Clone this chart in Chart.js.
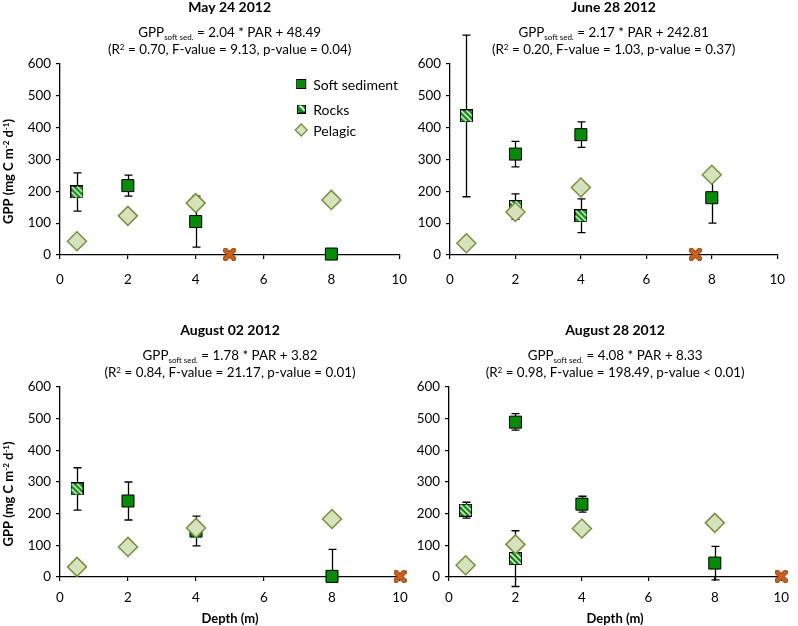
<!DOCTYPE html>
<html>
<head>
<meta charset="utf-8">
<script src="https://cdn.jsdelivr.net/npm/chart.js@4.4.1/dist/chart.umd.min.js"></script>
<style>
  body { margin: 0; background: #fff; }
  #wrap { position: relative; width: 798px; height: 626px; overflow: hidden; }
  #wrap canvas { position: absolute; }
</style>
</head>
<body>
<div id="wrap">
  <canvas id="c0" width="420" height="300" style="left:0;top:0"></canvas>
  <canvas id="c1" width="400" height="300" style="left:398px;top:0"></canvas>
  <canvas id="c2" width="420" height="326" style="left:0;top:300px"></canvas>
  <canvas id="c3" width="400" height="326" style="left:398px;top:300px"></canvas>
</div>
<script>
// ---- data ----
const panelTitles = ['May 24 2012', 'June 28 2012', 'August 02 2012', 'August 28 2012'];
const eqSlope = ['2.04', '2.17', '1.78', '4.08'];
const eqIntercept = ['48.49', '242.81', '3.82', '8.33'];
const eqStats = [
  ' = 0.70, F-value = 9.13, p-value = 0.04)',
  ' = 0.20, F-value = 1.03, p-value = 0.37)',
  ' = 0.84, F-value = 21.17, p-value = 0.01)',
  ' = 0.98, F-value = 198.49, p-value < 0.01)',
];

const softDepths = [2, 4, 8];
const softGPP = [[218, 105, 3], [317, 378, 180], [240, 145, 2], [489, 230, 44]];
const softErrUp = [[33, 80, 0], [40, 40, 80], [60, 47, 85], [27, 25, 53]];
const softErrDown = [[33, 80, 0], [40, 40, 80], [60, 47, 0], [25, 25, 53]];

const rockDepths = [[0.5], [0.5, 2, 4], [0.5], [0.5, 2]];
const rockGPP = [[198], [437, 152, 123], [278], [211, 58]];
const rockErr = [[60], [254, 40, 53], [67], [25, 88]];

const pelagicDepths = [0.5, 2, 4, 8];
const pelagicGPP = [[43, 123, 163, 173], [37, 135, 212, 252], [32, 95, 155, 183], [37, 103, 153, 171]];

const zeroDepth = [5, 7.5, 10, 10];   // brown cross on the axis
const zeroGPP = 2;

const xTicks = [0, 2, 4, 6, 8, 10];
const yTicks = [0, 100, 200, 300, 400, 500, 600];

// ---- look ----
const FONT = 'Lato, "Open Sans", sans-serif';
const GREEN = '#078a07';
const PEL_FILL = '#d5e2bb';
const PEL_EDGE = '#76913e';

function rockIcon(size, step, lw) {
  const c = document.createElement('canvas');
  c.width = c.height = size;
  const g = c.getContext('2d');
  g.fillStyle = GREEN;
  g.fillRect(0, 0, size, size);
  g.save();
  g.beginPath(); g.rect(1, 1, size - 2, size - 2); g.clip();
  g.strokeStyle = '#fff';
  g.lineWidth = lw;
  for (let k = -size + 2; k < 2 * size; k += step) {
    g.beginPath(); g.moveTo(k, 0); g.lineTo(k + size, size); g.stroke();
  }
  g.restore();
  g.strokeStyle = '#000'; g.lineWidth = 1;
  g.strokeRect(0.5, 0.5, size - 1, size - 1);
  return c;
}

function crossIcon(size) {
  const c = document.createElement('canvas');
  c.width = c.height = size;
  const g = c.getContext('2d');
  const a = 2.5, b = size - 2.5;
  g.lineCap = 'square';
  g.strokeStyle = '#8a3f10'; g.lineWidth = 5.2;
  g.beginPath(); g.moveTo(a, a); g.lineTo(b, b); g.moveTo(b, a); g.lineTo(a, b); g.stroke();
  g.strokeStyle = '#c8621e'; g.lineWidth = 3.4;
  g.beginPath(); g.moveTo(a, a); g.lineTo(b, b); g.moveTo(b, a); g.lineTo(a, b); g.stroke();
  return c;
}

const rockImg = rockIcon(13, 5.5, 1.4);
const rockLegendImg = rockIcon(9, 9, 2);
const crossImg = crossIcon(13);

// draws a line made of normal / sub / sup parts centred on cx
function drawRich(ctx, parts, cx, cy, size, bold) {
  const w = bold ? 'bold ' : '';
  const small = Math.round(size * 0.62);
  let total = 0;
  parts.forEach(p => {
    ctx.font = w + (p[1] ? small : size) + 'px ' + FONT;
    total += ctx.measureText(p[0]).width;
  });
  let x = cx - total / 2;
  ctx.textAlign = 'left';
  ctx.textBaseline = 'alphabetic';
  parts.forEach(p => {
    ctx.font = w + (p[1] ? small : size) + 'px ' + FONT;
    const dy = p[1] === 'sub' ? 3 : p[1] === 'sup' ? -4.5 : 0;
    ctx.fillText(p[0], x, cy + dy);
    x += ctx.measureText(p[0]).width;
  });
}

const errorBars = {
  id: 'errorBars',
  beforeDatasetsDraw(chart) {
    const i = chart.options.plugins.panel.index;
    const xs = chart.scales.x, ys = chart.scales.y;
    const ctx = chart.ctx;
    const bars = [];
    softDepths.forEach((d, k) => bars.push([d, softGPP[i][k], softErrUp[i][k], softErrDown[i][k]]));
    rockDepths[i].forEach((d, k) => bars.push([d, rockGPP[i][k], rockErr[i][k], rockErr[i][k]]));
    ctx.save();
    ctx.strokeStyle = '#000';
    ctx.lineWidth = 1.3;
    bars.forEach(([d, v, up, down]) => {
      const px = Math.round(xs.getPixelForValue(d)) + 0.5;
      const ends = [];
      if (up > 0) ends.push(ys.getPixelForValue(v + up));
      if (down > 0) ends.push(ys.getPixelForValue(v - down));
      ends.forEach(py => {
        ctx.beginPath();
        ctx.moveTo(px, ys.getPixelForValue(v));
        ctx.lineTo(px, py);
        ctx.moveTo(px - 4, py);
        ctx.lineTo(px + 4, py);
        ctx.stroke();
      });
    });
    ctx.restore();
  },
};

const panelText = {
  id: 'panelText',
  afterDraw(chart, args, opts) {
    const i = opts.index;
    const ctx = chart.ctx;
    const a = chart.chartArea;
    const cx = (a.left + a.right) / 2;
    ctx.save();
    ctx.fillStyle = '#000';
    drawRich(ctx, [[panelTitles[i]]], cx, a.top - 52, 14, true);
    drawRich(ctx, [['GPP'], ['soft sed.', 'sub'], [' = ' + eqSlope[i] + ' * PAR + ' + eqIntercept[i]]], cx, a.top - 27, 13.4, false);
    drawRich(ctx, [['(R'], ['2', 'sup'], [eqStats[i]]], cx, a.top - 10, 13.4, false);

    if (opts.yTitle) {
      ctx.save();
      ctx.translate(13, (a.top + a.bottom) / 2 + 12);
      ctx.rotate(-Math.PI / 2);
      drawRich(ctx, [['GPP (mg C m'], ['-2', 'sup'], [' d'], ['-1', 'sup'], [')']], 0, 0, 13, true);
      ctx.restore();
    }
    if (opts.xTitle) {
      drawRich(ctx, [['Depth (m)']], cx, a.bottom + 46, 13, true);
    }
    if (opts.legend) {
      const lx = a.right - 98;
      const items = ['Soft sediment', 'Rocks', 'Pelagic'];
      const rows = [a.top + 20, a.top + 45, a.top + 66];
      ctx.fillStyle = GREEN; ctx.strokeStyle = '#000'; ctx.lineWidth = 1;
      ctx.fillRect(lx - 4, rows[0] - 4, 8, 8);
      ctx.strokeRect(lx - 4.5, rows[0] - 4.5, 9, 9);
      ctx.drawImage(rockLegendImg, lx - 4.5, rows[1] - 4.5);
      ctx.beginPath();
      ctx.moveTo(lx, rows[2] - 6); ctx.lineTo(lx + 6, rows[2]);
      ctx.lineTo(lx, rows[2] + 6); ctx.lineTo(lx - 6, rows[2]); ctx.closePath();
      ctx.fillStyle = PEL_FILL; ctx.fill();
      ctx.strokeStyle = PEL_EDGE; ctx.lineWidth = 1.3; ctx.stroke();
      ctx.fillStyle = '#000';
      ctx.font = '14px ' + FONT;
      ctx.textAlign = 'left';
      ctx.textBaseline = 'middle';
      items.forEach((t, k) => ctx.fillText(t, lx + 12, rows[k] + 1));
    }
    ctx.restore();
  },
};

function pts(xs, ys) {
  return xs.map((x, k) => ({ x, y: ys[k] }));
}

function makePanel(id, i, layout) {
  new Chart(document.getElementById(id), {
    type: 'scatter',
    data: {
      datasets: [
        {
          label: 'Pelagic',
          data: pts(pelagicDepths, pelagicGPP[i]),
          pointStyle: 'rectRot', pointRadius: 9.5,
          backgroundColor: PEL_FILL, borderColor: PEL_EDGE, borderWidth: 1.5,
          order: 0, clip: false,
        },
        {
          label: 'Zero',
          data: [{ x: zeroDepth[i], y: zeroGPP }],
          pointStyle: crossImg,
          order: 1, clip: false,
        },
        {
          label: 'Rocks',
          data: pts(rockDepths[i], rockGPP[i]),
          pointStyle: rockImg,
          order: 2, clip: false,
        },
        {
          label: 'Soft sediment',
          data: pts(softDepths, softGPP[i]),
          pointStyle: 'rect', pointRadius: 8.5,
          backgroundColor: GREEN, borderColor: '#000', borderWidth: 1,
          order: 3, clip: false,
        },
      ],
    },
    options: {
      responsive: false,
      animation: false,
      events: [],
      layout: { padding: { top: layout.top, right: layout.right, left: 0, bottom: 0 } },
      scales: {
        x: {
          type: 'linear', min: 0, max: 10,
          afterBuildTicks: s => { s.ticks = xTicks.map(v => ({ value: v })); },
          afterFit: s => { s.height = layout.xh; },
          ticks: { color: '#000', font: { family: FONT, size: 13.4 }, padding: layout.xpad, maxRotation: 0 },
          grid: { drawOnChartArea: false, drawTicks: true, tickLength: 4, color: '#000', lineWidth: 1.2 },
          border: { color: '#000', width: 1.3 },
        },
        y: {
          type: 'linear', min: 0, max: 600,
          afterBuildTicks: s => { s.ticks = yTicks.map(v => ({ value: v })); },
          afterFit: s => { s.width = layout.yw; },
          ticks: { color: '#000', font: { family: FONT, size: 13.4 }, padding: 5 },
          grid: { drawOnChartArea: false, drawTicks: true, tickLength: 4, color: '#000', lineWidth: 1.2 },
          border: { color: '#000', width: 1.3 },
        },
      },
      plugins: {
        legend: { display: false },
        tooltip: { enabled: false },
        panel: { index: i, legend: layout.legend, yTitle: layout.yTitle, xTitle: layout.xTitle },
      },
    },
    plugins: [errorBars, { ...panelText, id: 'panel' }],
  });
}

makePanel('c0', 0, { top: 64, right: 20, yw: 60, xh: 45, xpad: 13, legend: true, yTitle: true, xTitle: false });
makePanel('c1', 1, { top: 64, right: 11, yw: 52, xh: 45, xpad: 13, legend: false, yTitle: false, xTitle: false });
makePanel('c2', 2, { top: 87, right: 20, yw: 60, xh: 49, xpad: 9, legend: false, yTitle: true, xTitle: true });
makePanel('c3', 3, { top: 87, right: 11, yw: 51, xh: 49, xpad: 9, legend: false, yTitle: false, xTitle: true });
</script>
</body>
</html>
